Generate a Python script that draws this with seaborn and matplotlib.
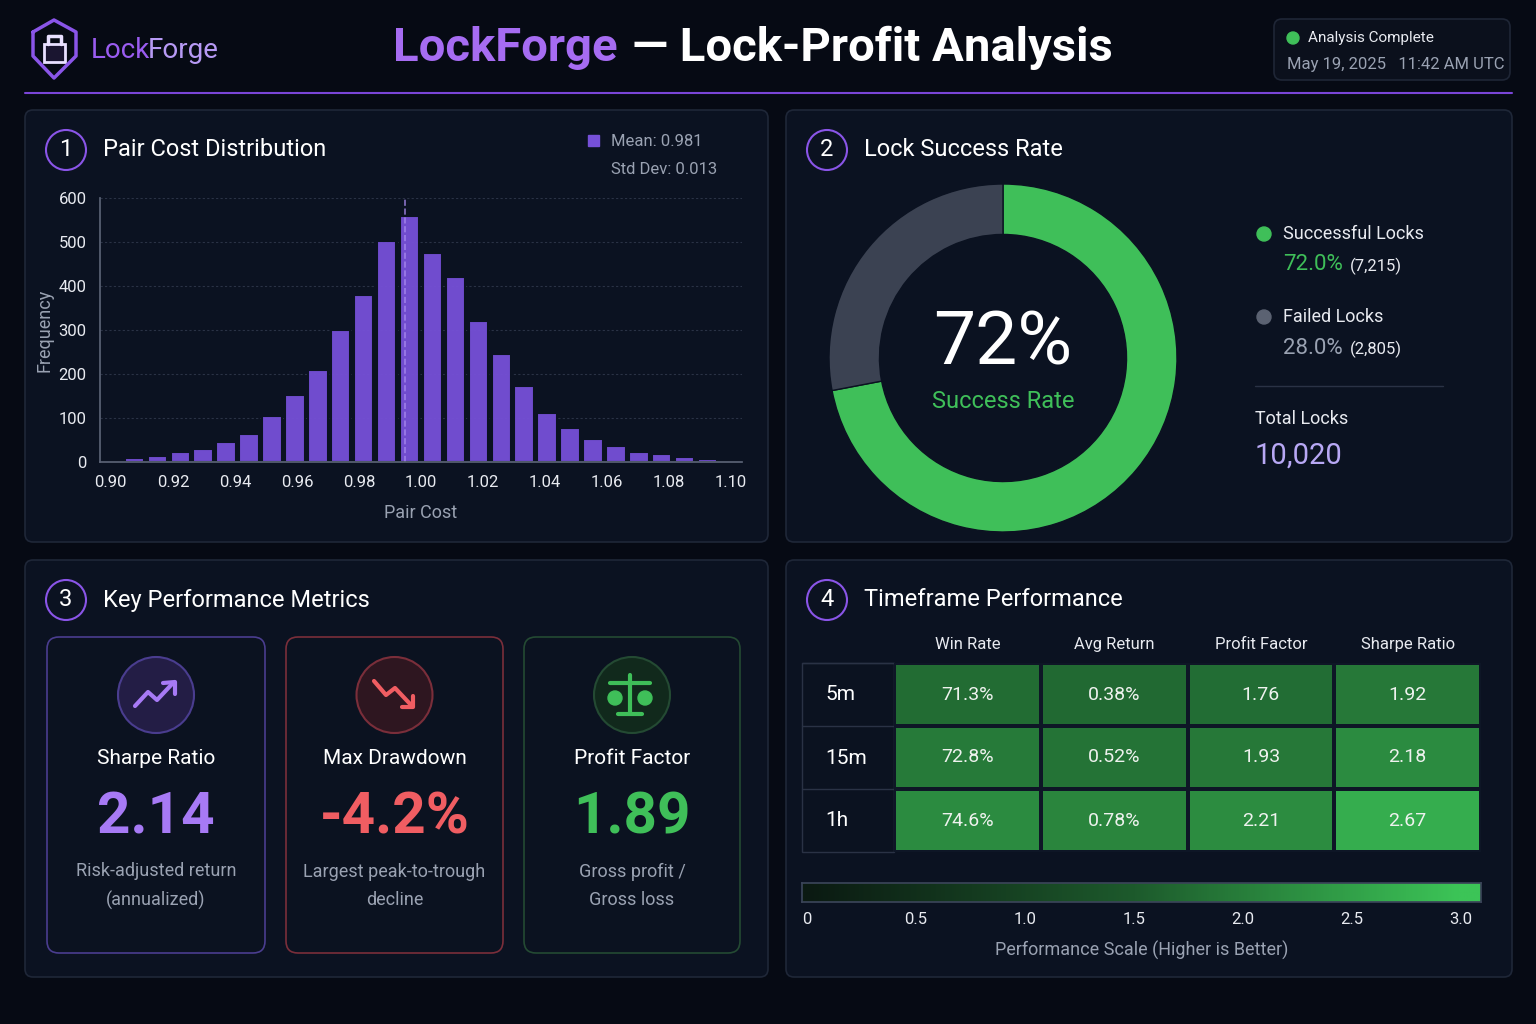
import numpy as np
import pandas as pd
import seaborn as sns
import matplotlib.pyplot as plt
from matplotlib.patches import FancyBboxPatch, Circle, Rectangle
from matplotlib.colors import LinearSegmentedColormap

# data
bin_lo, bin_hi = 0.8965, 1.1035
hist_counts = [3, 8, 13, 22, 30, 45, 63, 105, 152, 208, 300, 380, 502, 558,
               475, 420, 320, 245, 172, 112, 78, 53, 36, 23, 18, 12, 7, 3]
mean_line = 0.995
lock_labels = ["Successful Locks", "Failed Locks"]
lock_counts = [7215, 2805]
kpi_names = ["Sharpe Ratio", "Max Drawdown", "Profit Factor"]
kpi_values = ["2.14", "-4.2%", "1.89"]
kpi_desc = ["Risk-adjusted return\n(annualized)", "Largest peak-to-trough\ndecline", "Gross profit /\nGross loss"]
timeframes = ["5m", "15m", "1h"]
metrics = ["Win Rate", "Avg Return", "Profit Factor", "Sharpe Ratio"]
cell_text = [["71.3%", "0.38%", "1.76", "1.92"],
             ["72.8%", "0.52%", "1.93", "2.18"],
             ["74.6%", "0.78%", "2.21", "2.67"]]
cell_score = [[1.75, 1.70, 1.76, 1.92],
              [1.95, 1.85, 1.93, 2.18],
              [2.20, 2.10, 2.21, 2.67]]

BG = "#060a14"
PANEL = "#0b1221"
EDGE = "#1f2738"
PURPLE = "#7650d8"
LPURPLE = "#a77af5"
GREEN = "#3fbf59"
GREY = "#3b4252"
TXT = "#e8eaf0"
SUB = "#9aa2b2"

sns.set_theme(style="dark")
plt.rcParams['font.family'] = ['Roboto', 'DejaVu Sans']

fig = plt.figure(figsize=(15.36, 10.24), dpi=100, facecolor=BG)
W, H = 1536, 1024

def rect(x0, y0, x1, y1):
    return [x0 / W, 1 - y1 / H, (x1 - x0) / W, (y1 - y0) / H]

deco = fig.add_axes([0, 0, 1, 1], zorder=0)
deco.set_xlim(0, W)
deco.set_ylim(H, 0)
deco.axis("off")
deco.set_facecolor(BG)

def panel(x0, y0, x1, y1, ec=EDGE, fc=PANEL, r=8):
    deco.add_patch(FancyBboxPatch((x0, y0), x1 - x0, y1 - y0, boxstyle=f"round,pad=0,rounding_size={r}",
                                  fc=fc, ec=ec, lw=1.2))

# header
deco.text(91, 50, "Lock", color="#9a5cf0", fontsize=20, va="center")
deco.text(148, 50, "Forge", color="#b79af5", fontsize=20, va="center")
sx = [33, 54, 76, 76, 54, 33, 33]
sy = [32, 20, 32, 56, 78, 56, 32]
deco.plot(sx, sy, color="#8a55e8", lw=2.5)
deco.add_patch(Rectangle((44, 44), 21, 18, fc="#1a1530", ec="#e8e0ff", lw=2))
deco.plot([48, 48, 61, 61], [44, 36, 36, 44], color="#e8e0ff", lw=2.5)
deco.text(618, 48, "LockForge", color="#a66cf2", fontsize=34, fontweight="bold", ha="right", va="center")
deco.text(632, 48, "— Lock-Profit Analysis", color="white", fontsize=34, fontweight="bold", ha="left", va="center")
panel(1274, 19, 1510, 80, ec="#1f2636", fc="#0b101c")
deco.add_patch(Circle((1293, 38), 6, color=GREEN))
deco.text(1308, 38, "Analysis Complete", color=TXT, fontsize=11, va="center")
deco.text(1287, 65, "May 19, 2025   11:42 AM UTC", color=SUB, fontsize=12, va="center")
deco.plot([25, 1512], [93, 93], color="#7a45d8", lw=1.5)

panels = [(25, 110, 768, 542), (786, 110, 1512, 542), (25, 560, 768, 977), (786, 560, 1512, 977)]
titles = ["Pair Cost Distribution", "Lock Success Rate", "Key Performance Metrics", "Timeframe Performance"]
for i, (p, t) in enumerate(zip(panels, titles)):
    panel(*p)
    cx, cy = p[0] + 41, p[1] + 40
    deco.add_patch(Circle((cx, cy), 20, fc="none", ec="#8a55e8", lw=1.5))
    deco.text(cx, cy, str(i + 1), color="white", fontsize=17, ha="center", va="center")
    deco.text(cx + 37, cy, t, color="white", fontsize=17, va="center")

# 1 histogram
ax = fig.add_axes(rect(100, 198, 742, 462))
bw = (bin_hi - bin_lo) / len(hist_counts)
centers = bin_lo + bw * (np.arange(len(hist_counts)) + 0.5)
hdf = pd.DataFrame({"cost": centers, "n": hist_counts})
sns.histplot(data=hdf, x="cost", weights="n", binwidth=bw, binrange=(bin_lo, bin_hi), ax=ax,
             color=PURPLE, alpha=0.95, edgecolor=PANEL, linewidth=1.5, shrink=0.85)
ax.axvline(mean_line, color="#a98af0", ls="--", lw=1.2, alpha=0.8)
ax.set_facecolor(PANEL)
ax.set_xlim(bin_lo, bin_hi)
ax.set_ylim(0, 600)
ax.set_xticks(np.arange(0.90, 1.101, 0.02))
ax.set_xticklabels([f"{v:.2f}" for v in np.arange(0.90, 1.101, 0.02)])
ax.set_yticks(range(0, 601, 100))
ax.tick_params(colors=TXT, labelsize=12)
ax.grid(axis="y", color="#2a3245", ls=(0, (2, 2)), lw=0.8)
ax.grid(axis="x", visible=False)
for s in ["top", "right"]:
    ax.spines[s].set_visible(False)
for s in ["left", "bottom"]:
    ax.spines[s].set_color("#5a6275")
ax.set_xlabel("Pair Cost", color=SUB, fontsize=13, labelpad=10)
ax.set_ylabel("Frequency", color=SUB, fontsize=13)
deco.add_patch(Rectangle((588, 135), 11, 11, color=PURPLE))
deco.text(611, 141, "Mean: 0.981", color=SUB, fontsize=12, va="center")
deco.text(611, 170, "Std Dev: 0.013", color=SUB, fontsize=12, va="center")

# 2 donut
axd = fig.add_axes(rect(829, 184, 1177, 532))
axd.pie(lock_counts, colors=[GREEN, GREY], startangle=90, counterclock=False, radius=1,
        wedgeprops=dict(width=0.29, edgecolor=PANEL, linewidth=1))
axd.set_xlim(-1, 1)
axd.set_ylim(-1, 1)
axd.set_aspect("equal")
total = sum(lock_counts)
pct = lock_counts[0] / total * 100
axd.text(0, 0.08, f"{pct:.0f}%", color="white", fontsize=54, ha="center", va="center")
axd.text(0, -0.25, "Success Rate", color=GREEN, fontsize=17, ha="center", va="center")
for k, (lab, n, c, vc) in enumerate(zip(lock_labels, lock_counts, [GREEN, "#5b6272"], [GREEN, SUB])):
    y = 234 + k * 83
    deco.add_patch(Circle((1264, y), 7, color=c))
    deco.text(1283, y, lab, color=TXT, fontsize=13, va="center")
    deco.text(1283, y + 31, f"{n / total * 100:.1f}%", color=vc, fontsize=16, va="center")
    deco.text(1350, y + 32, f"({n:,})", color=TXT, fontsize=12, va="center")
deco.plot([1255, 1443], [386, 386], color="#2a3245", lw=1)
deco.text(1255, 419, "Total Locks", color=TXT, fontsize=13, va="center")
deco.text(1255, 456, f"{total:,}", color="#b8a8f5", fontsize=21, va="center")

# 3 KPI cards
cards = [(47, 265), (286, 503), (524, 740)]
ccols = ["#4a3d8f", "#7a2e3a", "#244a33"]
vcols = [LPURPLE, "#f05d62", GREEN]
icbg = ["#231d45", "#2e1620", "#11291c"]
for (x0, x1), name, val, desc, ec, vc, ib in zip(cards, kpi_names, kpi_values, kpi_desc, ccols, vcols, icbg):
    panel(x0, 637, x1, 953, ec=ec, fc="#0b1220", r=12)
    cx = (x0 + x1) / 2
    deco.add_patch(Circle((cx, 695), 38, fc=ib, ec=ec, lw=1.5))
    deco.text(cx, 759, name, color="white", fontsize=15, ha="center", va="center")
    deco.text(cx, 818, val, color=vc, fontsize=42, fontweight="bold", ha="center", va="center")
    deco.text(cx, 886, desc, color=SUB, fontsize=13, ha="center", va="center", linespacing=1.7)
# icons
c = 155
deco.plot([c - 20, c - 7, c + 2, c + 18], [706, 692, 700, 683], color=LPURPLE, lw=3)
deco.plot([c + 8, c + 20, c + 20], [683, 682, 694], color=LPURPLE, lw=3)
c = 394
deco.plot([c - 20, c - 8, c + 1, c + 18], [681, 695, 688, 706], color="#f05d62", lw=3)
deco.plot([c + 8, c + 19, c + 19], [707, 707, 696], color="#f05d62", lw=3)
c = 630
deco.plot([c, c], [675, 713], color=GREEN, lw=3)
deco.plot([c - 20, c + 20], [683, 683], color=GREEN, lw=3)
deco.plot([c - 12, c + 12], [714, 714], color=GREEN, lw=3)
for dx in (-15, 15):
    deco.add_patch(Circle((c + dx, 698), 7, fc=GREEN, ec=GREEN))

# 4 heatmap
cmap = LinearSegmentedColormap.from_list("g", ["#0b1a12", "#1d5a2c", "#3cc457"])
axh = fig.add_axes(rect(894, 663, 1481, 852))
df = pd.DataFrame(cell_score, index=timeframes, columns=metrics)
sns.heatmap(df, ax=axh, cmap=cmap, vmin=0, vmax=3, annot=np.array(cell_text), fmt="",
            annot_kws=dict(color="#eef2ee", fontsize=14), cbar=False, linewidths=1.5, linecolor="#0e1626")
axh.xaxis.tick_top()
axh.tick_params(length=0, colors=TXT, labelsize=12, pad=8)
axh.set_xticklabels(metrics, color=TXT)
axh.set_yticklabels([])
axh.set_xlabel("")
axh.set_ylabel("")
deco.add_patch(Rectangle((802, 663), 92, 189, fc="#0b1220", ec="#2a3245", lw=1))
for k, tf in enumerate(timeframes):
    y = 663 + 63 * k
    deco.plot([802, 894], [y, y], color="#2a3245", lw=1)
    deco.text(825, y + 32, tf, color="white", fontsize=15, va="center")

axc = fig.add_axes(rect(802, 883, 1481, 902))
c_lo, c_hi = -0.023, 3.092
grad = np.linspace(c_lo, c_hi, 300)[None, :]
axc.imshow(grad, aspect="auto", cmap=cmap, vmin=0, vmax=3, extent=[c_lo, c_hi, 0, 1])
axc.set_xlim(c_lo, c_hi)
axc.set_yticks([])
axc.set_xticks(np.arange(0, 3.01, 0.5))
axc.set_xticklabels(["0", "0.5", "1.0", "1.5", "2.0", "2.5", "3.0"])
axc.tick_params(colors=TXT, labelsize=12, length=4)
for s in axc.spines.values():
    s.set_color("#3a4458")
axc.set_xlabel("Performance Scale (Higher is Better)", color=SUB, fontsize=13, labelpad=10)

fig.savefig("out.png", dpi=100, facecolor=BG)
